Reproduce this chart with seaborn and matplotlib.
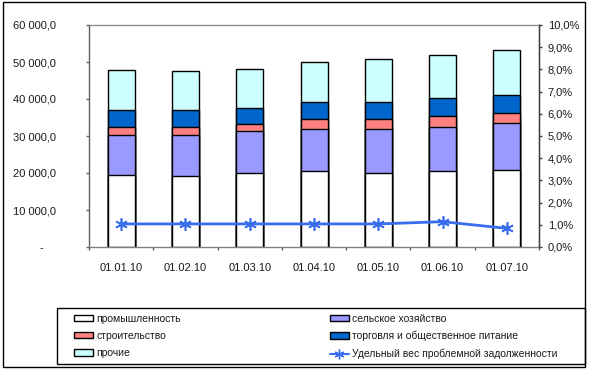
import matplotlib
matplotlib.use("Agg")
import matplotlib.pyplot as plt
from matplotlib import font_manager
import seaborn as sns
import pandas as pd
import numpy as np
from matplotlib.patches import Rectangle, Patch
from matplotlib.lines import Line2D
from matplotlib.ticker import FixedLocator, FuncFormatter

# ---------------- data ----------------
dates = ["01.01.10", "01.02.10", "01.03.10", "01.04.10", "01.05.10", "01.06.10", "01.07.10"]
industry = [19500, 19200, 19900, 20500, 20000, 20500, 20700]
agriculture = [10900, 11000, 11400, 11500, 11900, 11900, 12700]
construction = [2100, 2300, 1900, 2600, 2700, 2900, 2900]
trade = [4400, 4400, 4500, 4500, 4500, 4900, 4700]
other = [10900, 10700, 10400, 10800, 11700, 11700, 12200]
problem_share = [1.04, 1.04, 1.04, 1.04, 1.04, 1.14, 0.84]

series_names = ["промышленность", "сельское хозяйство", "строительство",
                "торговля и общественное питание", "прочие"]
line_name = "Удельный вес проблемной задолженности"
left_ticks = [0, 10000, 20000, 30000, 40000, 50000, 60000]
right_ticks = [0, 1, 2, 3, 4, 5, 6, 7, 8, 9, 10]

colors = ["#FFFFFF", "#9999FF", "#FF8080", "#0066CC", "#CCFFFF"]
line_color = "#3A6CF0"

sns.set_theme(style="white")
plt.rcParams["font.family"] = ["Liberation Sans", "DejaVu Sans"]
TXT = "#1a1a1a"

names = {f.name for f in font_manager.fontManager.ttflist}
if "Liberation Sans Narrow" in names:
    leg_family = ["Liberation Sans Narrow", "Liberation Sans", "DejaVu Sans"]
    leg_size = 8.8
else:
    leg_family = ["Liberation Sans", "DejaVu Sans"]
    leg_size = 7.5

fig = plt.figure(figsize=(5.9, 3.7), dpi=100)
ax = fig.add_axes([89/590, 1-247/370, 450/590, 222/370])

df = pd.DataFrame({"date": dates, "industry": industry, "agriculture": agriculture,
                   "construction": construction, "trade": trade, "other": other})
stack_cols = ["industry", "agriculture", "construction", "trade", "other"]
cum = df[stack_cols].cumsum(axis=1)

# draw from top (total) down so lower segments overlay
for i in range(len(stack_cols) - 1, -1, -1):
    sns.barplot(x=df["date"], y=cum[stack_cols[i]], color=colors[i], ax=ax,
                width=0.42, edgecolor="black", linewidth=1.0, saturation=1,
                order=dates)

ax.set_xlim(-0.5, 6.5)
ax.set_ylim(0, 60000)
ax.set_xlabel("")
ax.set_ylabel("")

def lfmt(v, pos):
    if v == 0:
        return "-    "
    s = f"{int(v):,}".replace(",", " ")
    return s + ",0"

ax.yaxis.set_major_locator(FixedLocator(left_ticks))
ax.yaxis.set_major_formatter(FuncFormatter(lfmt))
ax.tick_params(axis="y", which="major", left=True, length=2.2, width=1,
               color="#606060", pad=21.5, labelsize=8, labelcolor=TXT, direction="out")
ax.set_xticks(range(len(dates)))
ax.set_xticklabels(dates)
ax.xaxis.set_minor_locator(FixedLocator(np.arange(-0.5, 7, 1.0)))
ax.tick_params(axis="x", which="major", bottom=True, length=0, pad=11.5,
               labelsize=8, labelcolor=TXT)
ax.tick_params(axis="x", which="minor", bottom=True, length=2.5, width=1,
               color="#606060", direction="out")

for side, col in [("left", "#606060"), ("top", "#909090"), ("bottom", "#808080"),
                  ("right", "#909090")]:
    ax.spines[side].set_visible(True)
    ax.spines[side].set_color(col)
    ax.spines[side].set_linewidth(1.0)

# secondary axis
ax2 = ax.twinx()
sns.lineplot(x=np.arange(len(dates)), y=problem_share, ax=ax2, color=line_color,
             linewidth=2.0, marker=(6, 2, 0), markersize=9, markeredgewidth=1.2,
             markeredgecolor=line_color)
ax2.set_ylim(0, 10)
ax2.set_xlim(-0.5, 6.5)
ax2.yaxis.set_major_locator(FixedLocator(right_ticks))
ax2.yaxis.set_major_formatter(FuncFormatter(lambda v, p: f"{v:.1f}".replace(".", ",") + "%"))
ax2.tick_params(axis="y", right=True, length=2.2, width=1, color="#404040",
                pad=4, labelsize=8, labelcolor=TXT, direction="out")
ax2.set_ylabel("")
for side in ["left", "top", "bottom"]:
    ax2.spines[side].set_visible(False)
ax2.spines["right"].set_visible(True)
ax2.spines["right"].set_color("#404040")
ax2.spines["right"].set_linewidth(1.0)
ax2.grid(False)
ax.grid(False)

# legend: two columns placed separately
col1 = [Patch(facecolor=colors[0], edgecolor="black", linewidth=1.0, label=series_names[0]),
        Patch(facecolor=colors[2], edgecolor="black", linewidth=1.0, label=series_names[2]),
        Patch(facecolor=colors[4], edgecolor="black", linewidth=1.0, label=series_names[4])]
col2 = [Patch(facecolor=colors[1], edgecolor="black", linewidth=1.0, label=series_names[1]),
        Patch(facecolor=colors[3], edgecolor="black", linewidth=1.0, label=series_names[3]),
        Line2D([0], [0], color=line_color, linewidth=1.5, marker=(6, 2, 0),
               markersize=7, markeredgecolor=line_color, label=line_name)]
leg_kw = dict(loc="upper left", bbox_transform=fig.transFigure, frameon=False,
              prop={"family": leg_family, "size": leg_size},
              handlelength=1.8, handleheight=0.6, handletextpad=0.35,
              labelspacing=0.7, borderpad=0, borderaxespad=0)
for handles, x0 in [(col1, 74), (col2, 330)]:
    leg = fig.legend(handles=handles, bbox_to_anchor=(x0/590, 1-313.5/370), **leg_kw)
    for t in leg.get_texts():
        t.set_color(TXT)

# legend frame and figure border
fig.patches.append(Rectangle((57/590, 1-364/370), (585-57)/590, (364-308)/370,
                             transform=fig.transFigure, fill=False,
                             edgecolor="black", linewidth=1.0))
fig.patches.append(Rectangle((3/590, 1-367/370), (585-3)/590, (367-2)/370,
                             transform=fig.transFigure, fill=False,
                             edgecolor="black", linewidth=1.0))

fig.savefig("out.png", dpi=100, facecolor="white")
